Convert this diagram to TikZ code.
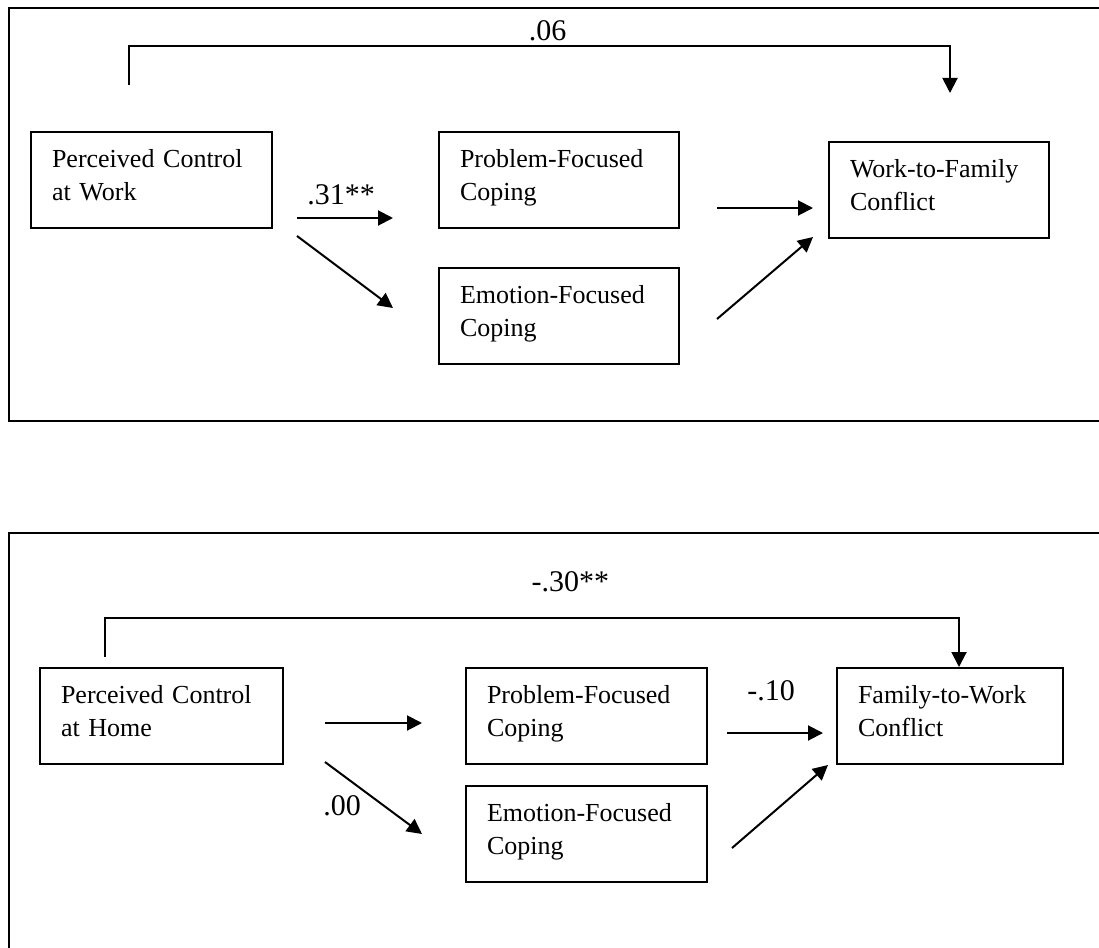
\documentclass[tikz,border=0pt]{standalone}
\usepackage{fontspec}
\setmainfont{Liberation Serif}
\usetikzlibrary{positioning,arrows.meta}
\newcommand\boxfont{\fontsize{26}{33}\selectfont\hyphenpenalty=10000\exhyphenpenalty=10000}
\newcommand\pathfont{\fontsize{30}{36}\selectfont}

\begin{document}
\begin{tikzpicture}[
    x=1pt, y=-1pt,
    frame/.style={line width=2pt},
    box/.style={
        draw,
        line width=2pt,
        anchor=north west,
        align=left,
        inner xsep=21pt,
        inner ysep=2pt,
        minimum height=96pt,
        text height=18pt,
        text depth=44pt,
        font=\boxfont
    },
    coef/.style={font=\pathfont, inner sep=0pt},
    arrow/.style={-{Triangle[length=15pt,width=15pt]}, line width=2pt}
]

\clip (0,0) rectangle (1099,947);

% work model
\draw[frame] (9,8) rectangle (1120,421);

\node[box, text width=199pt] (ctrlw) at (30,131) {Perceived Control\\at Work};
\node[box, text width=198pt] (probw) at (438,131) {Problem-Focused\\Coping};
\node[box, text width=198pt, below=38pt of probw] (emotw) {Emotion-Focused\\Coping};
\node[box, text width=178pt] (wfc) at (828,141) {Work-to-Family\\Conflict};

\coordinate (w0a) at (129,85);
\coordinate (w0c) at (129,46);
\coordinate (w0d) at (950,46);
\coordinate (w0b) at (950,93);
\coordinate (w1a) at (297,218);
\coordinate (w1b) at (393,218);
\coordinate (w2a) at (297,236);
\coordinate (w2b) at (393,308);
\coordinate (w3a) at (717,208);
\coordinate (w3b) at (813,208);
\coordinate (w4a) at (717,319);
\coordinate (w4b) at (813,237);

\draw[arrow] (w0a) -- (w0c) -- node[coef, above=4pt, pos=0.51] (c06) {.06} (w0d) -- (w0b);
\draw[arrow] (w1a) -- node[coef, above=12pt, pos=0.46] (c31) {.31**} (w1b);
\draw[arrow] (w2a) -- (w2b);
\draw[arrow] (w3a) -- (w3b);
\draw[arrow] (w4a) -- (w4b);

% home model
\draw[frame] (9,533) rectangle (1120,960);

\node[box, text width=201pt] (ctrlh) at (39,667) {Perceived Control\\at Home};
\node[box, text width=199pt] (probh) at (465,667) {Problem-Focused\\Coping};
\node[box, text width=199pt, below=20pt of probh] (emoth) {Emotion-Focused\\Coping};
\node[box, text width=184pt] (fwc) at (836,667) {Family-to-Work\\Conflict};

\coordinate (h0a) at (105,657);
\coordinate (h0c) at (105,618);
\coordinate (h0d) at (959,618);
\coordinate (h1a) at (325,723);
\coordinate (h1b) at (422,723);
\coordinate (h2a) at (325,762);
\coordinate (h2b) at (422,834);
\coordinate (h3a) at (727,733);
\coordinate (h3b) at (823,733);
\coordinate (h4a) at (732,848);
\coordinate (h4b) at (828,765);

\draw[arrow] (h0a) -- (h0c) -- node[coef, above=25pt, pos=0.545] (c30) {-.30**} (h0d) -- (fwc.north -| h0d);
\draw[arrow] (h1a) -- (h1b);
\draw[arrow] (h2a) -- (h2b);
\node[coef, anchor=base] (c00) at (342,815) {.00};
\draw[arrow] (h3a) -- node[coef, above=31pt, pos=0.46] (c10) {-.10} (h3b);
\draw[arrow] (h4a) -- (h4b);

\end{tikzpicture}
\end{document}
